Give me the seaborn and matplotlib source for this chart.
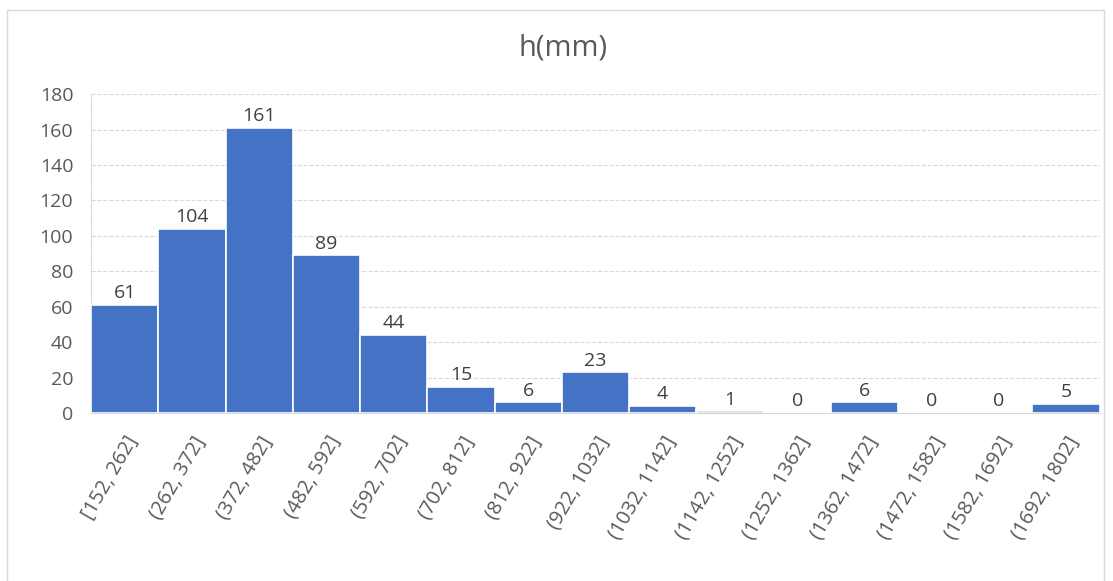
import seaborn as sns
import matplotlib.pyplot as plt
from matplotlib.patches import Rectangle

# histogram bins of h (mm) and counts
bins = ["[152, 262]", "(262, 372]", "(372, 482]", "(482, 592]", "(592, 702]",
        "(702, 812]", "(812, 922]", "(922, 1032]", "(1032, 1142]", "(1142, 1252]",
        "(1252, 1362]", "(1362, 1472]", "(1472, 1582]", "(1582, 1692]", "(1692, 1802]"]
counts = [61, 104, 161, 89, 44, 15, 6, 23, 4, 1, 0, 6, 0, 0, 5]
yticks = [0, 20, 40, 60, 80, 100, 120, 140, 160, 180]

sns.set_style("white")
plt.rcParams['font.family'] = ['Open Sans', 'DejaVu Sans']

fig = plt.figure(figsize=(11.13, 5.81), dpi=100)
ax = fig.add_axes([0.082, 0.289, 0.906, 0.549])

sns.barplot(x=bins, y=counts, color="#4472C4", saturation=1, width=1,
            edgecolor="white", linewidth=1.2, ax=ax, zorder=3)

for c in ax.containers:
    ax.bar_label(c, padding=2, fontsize=14, color="#404040")

ax.set_ylim(0, 180)
ax.set_yticks(yticks)
ax.set_xlim(-0.5, len(bins) - 0.5)
ax.grid(axis="y", color="#D9D9D9", linestyle="--", linewidth=0.8, zorder=0)
for s in ["top", "right"]:
    ax.spines[s].set_visible(False)
ax.spines["left"].set_color("#D9D9D9")
ax.spines["left"].set_linestyle("--")
ax.spines["left"].set_linewidth(0.8)
ax.spines["bottom"].set_color("#D9D9D9")
ax.tick_params(axis="y", length=0, labelsize=14, colors="#595959", pad=13)
ax.tick_params(axis="x", length=0, labelsize=14.5, colors="#595959", pad=14)
plt.setp(ax.get_xticklabels(), rotation=60, ha="right", rotation_mode="anchor")
fig.text(0.506, 0.917, "h(mm)", fontsize=21, color="#595959",
         ha="center", va="center")

# outer chart border
fig.patches.append(Rectangle((7 / 1113, -0.01), 1097 / 1113, 1 - 10 / 581 + 0.01,
                             transform=fig.transFigure, fill=False,
                             edgecolor="#D9D9D9", linewidth=1))

fig.savefig("out.png", dpi=100)
